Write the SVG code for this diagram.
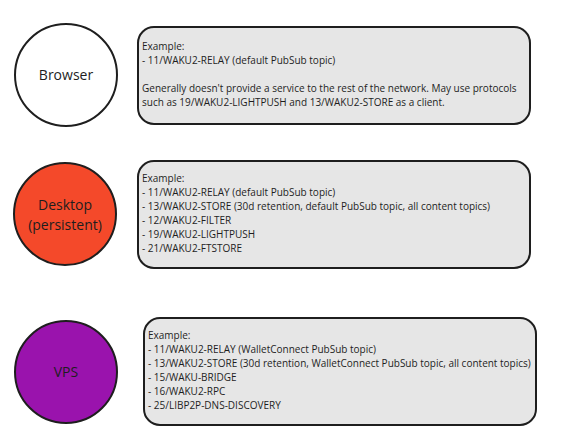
<svg xmlns="http://www.w3.org/2000/svg" width="567" height="444" viewBox="0 0 567 444">
<style>
.c{stroke:#1e1e1e;stroke-width:2}
.b{fill:#e6e6e6;stroke:#1e1e1e;stroke-width:2}
.l{font-family:"Open Sans","Noto Sans",sans-serif;font-size:14px;fill:#1e1e1e;text-anchor:middle}
.t{font-family:"Open Sans","Noto Sans",sans-serif;font-size:10px;fill:#1e1e1e}
</style>
<rect width="567" height="444" fill="#fff"/>
<g id="connectors"/>
<g id="browser">
<circle class="c" cx="66" cy="75" r="51" fill="#fff"/>
<text class="l" x="66" y="80">Browser</text>
</g>
<g id="browser-note">
<rect class="b" x="138" y="27" width="392" height="97" rx="16"/>
<text class="t"><tspan x="142" y="50">Example:</tspan><tspan x="142" y="64">- 11/WAKU2-RELAY (default PubSub topic)</tspan><tspan x="142" y="92">Generally doesn't provide a service to the rest of the network. May use protocols</tspan><tspan x="142" y="106">such as 19/WAKU2-LIGHTPUSH and 13/WAKU2-STORE as a client.</tspan></text>
</g>
<g id="desktop">
<circle class="c" cx="65" cy="214" r="51" fill="#f4492a"/>
<text class="l"><tspan x="65" y="210">Desktop</tspan><tspan x="65" y="230">(persistent)</tspan></text>
</g>
<g id="desktop-note">
<rect class="b" x="138" y="161" width="392" height="107" rx="16"/>
<text class="t"><tspan x="142" y="182">Example:</tspan><tspan x="142" y="196">- 11/WAKU2-RELAY (default PubSub topic)</tspan><tspan x="142" y="210">- 13/WAKU2-STORE (30d retention, default PubSub topic, all content topics)</tspan><tspan x="142" y="224">- 12/WAKU2-FILTER</tspan><tspan x="142" y="238">- 19/WAKU2-LIGHTPUSH</tspan><tspan x="142" y="252">- 21/WAKU2-FTSTORE</tspan></text>
</g>
<g id="vps">
<circle class="c" cx="66" cy="372" r="51" fill="#9a13ad"/>
<text class="l" x="66" y="377">VPS</text>
</g>
<g id="vps-note">
<rect class="b" x="144" y="318" width="392" height="107" rx="16"/>
<text class="t"><tspan x="148" y="339">Example:</tspan><tspan x="148" y="353">- 11/WAKU2-RELAY (WalletConnect PubSub topic)</tspan><tspan x="148" y="367">- 13/WAKU2-STORE (30d retention, WalletConnect PubSub topic, all content topics)</tspan><tspan x="148" y="381">- 15/WAKU-BRIDGE</tspan><tspan x="148" y="395">- 16/WAKU2-RPC</tspan><tspan x="148" y="409">- 25/LIBP2P-DNS-DISCOVERY</tspan></text>
</g>
</svg>
